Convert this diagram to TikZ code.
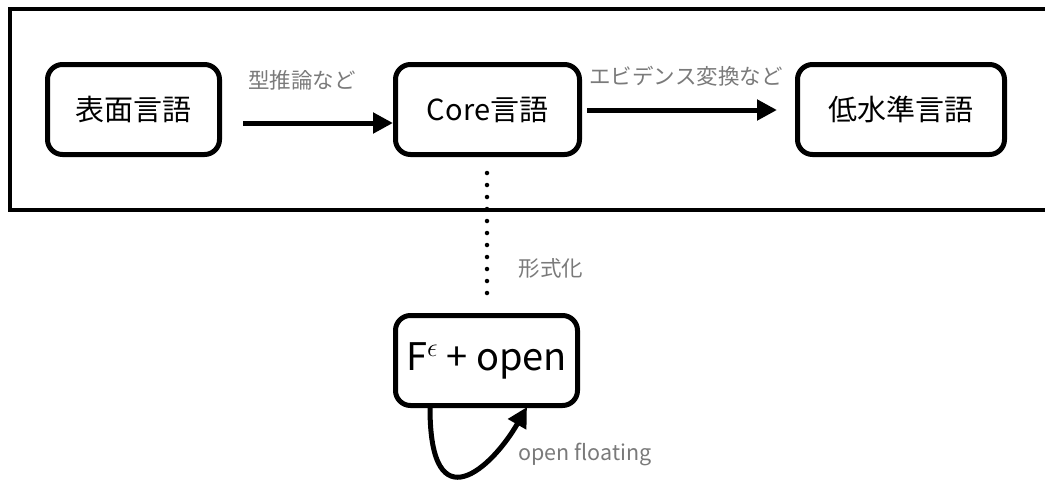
\RequirePackage{fix-cm}
\documentclass[tikz,border=0pt]{standalone}
\usepackage{fontspec}
\setmainfont{Noto Sans CJK JP}
\usetikzlibrary{arrows.meta}
\definecolor{lblgray}{HTML}{7A7A7A}
\tikzset{
  box/.style={draw=black, line width=5pt, rounded corners=15pt, inner sep=0pt, minimum height=90pt, font=\fontsize{29}{32}\selectfont},
  flow/.style={line width=5pt, -{Triangle[length=20pt,width=20pt]}},
  lbl/.style={text=lblgray, font=\fontsize{21.5}{24}\selectfont, inner sep=0pt},
  frame/.style={draw=black, line width=4pt},
  dots/.style={line width=4.5pt, line cap=round, dash pattern=on 0pt off 12pt}
}
\begin{document}
\begin{tikzpicture}[x=1pt,y=-1pt]
\useasboundingbox (0,0) rectangle (1045,480);
\clip (0,0) rectangle (1045,480);
\fill[white] (0,0) rectangle (1045,480);
\draw[frame] (10,9) rectangle (1070,210);

\node[box, minimum width=172pt] (surf) at (133.5,109.5) {表面言語};
\node[box, minimum width=184pt] (core) at (487.5,109.5) {Core言語};
\node[box, minimum width=207pt] (low) at (901,109.5) {低水準言語};
\node[box, minimum width=182pt, font=\fontsize{38}{42}\selectfont] (fe) at (486.5,360.5) {F$^{\epsilon}$ + open};

\coordinate (a1s) at (243,123);
\draw[flow] (a1s) -- (a1s -| core.west);
\coordinate (a2s) at (587,110);
\coordinate (a2e) at (777,110);
\draw[flow] (a2s) -- (a2e);

\coordinate (d1) at (487,173);
\coordinate (d2) at (487,293);
\draw[dots] (d1) -- (d2);

\coordinate (ls) at (430,408);
\coordinate (le) at (527,407);
\draw[line width=5pt, -{Triangle[length=20pt,width=20pt]}] (ls) .. controls (430,525) and (492,468) .. (le);

\node[lbl] (l1) at (302,80) {型推論など};
\node[lbl] (l2) at (686,76) {エビデンス変換など};
\node[lbl] (l3) at (551,268) {形式化};
\node[lbl] (l4) at (585,454) {open floating};
\end{tikzpicture}
\end{document}
